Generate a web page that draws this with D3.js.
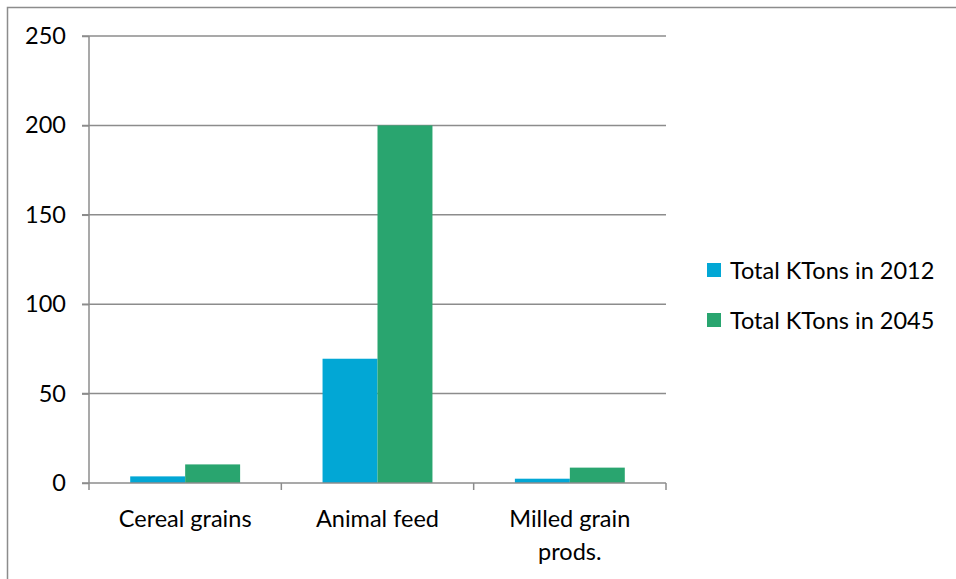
<!DOCTYPE html>
<html><head><meta charset="utf-8">
<script src="https://cdn.jsdelivr.net/npm/d3@7"></script>
<style>body{margin:0;background:#fff}svg{display:block}</style>
</head><body>
<script>
const categories = [["Cereal grains"], ["Animal feed"], ["Milled grain", "prods."]];
const seriesNames = ["Total KTons in 2012", "Total KTons in 2045"];
const values2012 = [3.7, 69.5, 2.4];
const values2045 = [10.4, 200, 8.6];
const yTicks = [0, 50, 100, 150, 200, 250];
const colors = ["#02A7D5", "#29A56F"];

const W = 956, H = 579;
const m = {left: 89, right: 666, top: 36, bottom: 483};
const font = "Lato, 'Liberation Sans', sans-serif";
const fs = 23.5;
const svg = d3.select("body").append("svg").attr("width", W).attr("height", H);

svg.append("rect").attr("x", 7.5).attr("y", 7.5).attr("width", W + 10).attr("height", H + 10)
  .attr("fill", "none").attr("stroke", "#8c8c8c").attr("stroke-width", 1.5);

const x = d3.scaleBand().domain(d3.range(categories.length)).range([m.left, m.right]);
const x1 = d3.scaleBand().domain([0, 1]).range([0, x.bandwidth()]).paddingOuter(0.75).paddingInner(0);
const y = d3.scaleLinear().domain([0, 250]).range([m.bottom, m.top]);

// gridlines
svg.append("g").selectAll("line").data(yTicks.filter(d => d > 0)).join("line")
  .attr("x1", m.left - 7).attr("x2", m.right).attr("y1", d => y(d)).attr("y2", d => y(d))
  .attr("stroke", "#8c8c8c").attr("stroke-width", 1.5);

const series = [values2012, values2045];
series.forEach((vals, s) => {
  svg.append("g").selectAll("rect").data(vals).join("rect")
    .attr("x", (d, i) => x(i) + x1(s))
    .attr("width", x1.bandwidth())
    .attr("y", d => y(d))
    .attr("height", d => y(0) - y(d))
    .attr("fill", colors[s]);
});

// y axis
const yAxis = d3.axisLeft(y).tickValues(yTicks).tickSize(7).tickPadding(16);
const gy = svg.append("g").attr("transform", `translate(${m.left},0)`).call(yAxis);
gy.select(".domain").attr("stroke", "#8c8c8c").attr("stroke-width", 1.5).attr("d", `M0,${m.top}V${m.bottom}`);
gy.selectAll(".tick line").attr("stroke", "#8c8c8c").attr("stroke-width", 1.5);
gy.selectAll(".tick text").attr("font-family", font).attr("font-size", fs).attr("fill", "#000");

// x axis
const xAxisLine = svg.append("g");
xAxisLine.append("line").attr("x1", m.left - 7).attr("x2", m.right).attr("y1", y(0)).attr("y2", y(0))
  .attr("stroke", "#8c8c8c").attr("stroke-width", 1.5);
const bounds = d3.range(categories.length + 1).map(i => i < categories.length ? x(i) : x(i - 1) + x.bandwidth());
xAxisLine.selectAll(".xt").data(bounds).join("line")
  .attr("x1", d => d).attr("x2", d => d).attr("y1", y(0)).attr("y2", y(0) + 7)
  .attr("stroke", "#8c8c8c").attr("stroke-width", 1.5);

const lbl = svg.append("g").selectAll("text").data(categories).join("text")
  .attr("x", (d, i) => x(i) + x.bandwidth() / 2)
  .attr("y", 527)
  .attr("text-anchor", "middle").attr("font-family", font).attr("font-size", fs).attr("fill", "#000");
lbl.selectAll("tspan").data(d => d).join("tspan")
  .attr("x", function() { return this.parentNode.getAttribute("x"); })
  .attr("dy", (d, i) => i === 0 ? 0 : 33)
  .text(d => d);

// legend
const leg = svg.append("g").selectAll("g").data(seriesNames).join("g")
  .attr("transform", (d, i) => `translate(707,${263 + i * 50})`);
leg.append("rect").attr("width", 14).attr("height", 14).attr("fill", (d, i) => colors[i]);
leg.append("text").attr("x", 23).attr("y", 15.5).attr("font-family", font).attr("font-size", fs)
  .attr("fill", "#000").text(d => d);
</script>
</body></html>
